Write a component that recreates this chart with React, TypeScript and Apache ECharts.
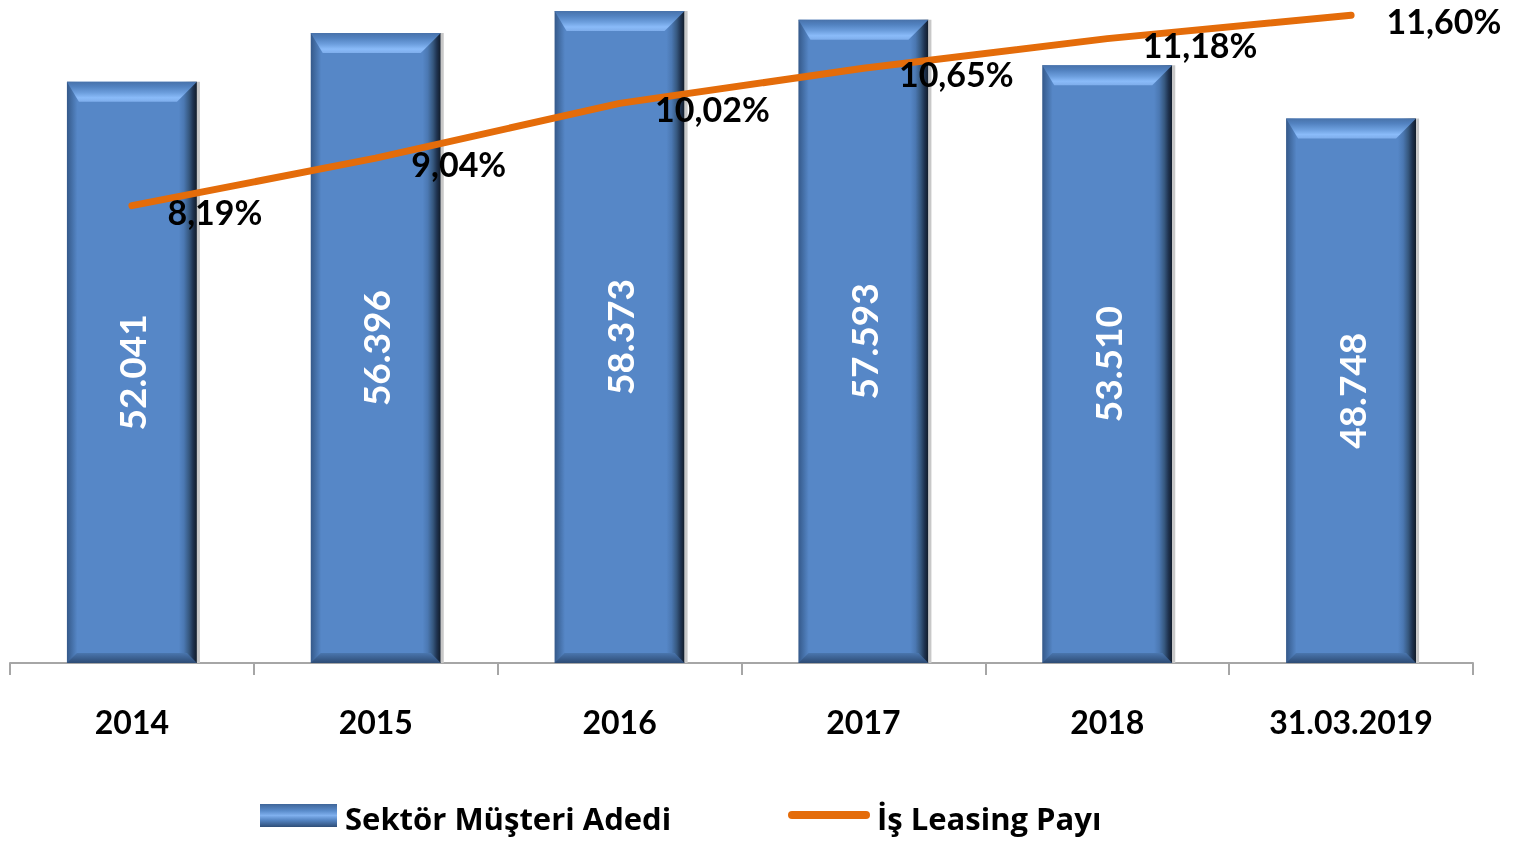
import React, { useEffect, useRef } from "react";
import * as echarts from "echarts";

const categories = ["2014", "2015", "2016", "2017", "2018", "31.03.2019"];
const customerCounts = [52041, 56396, 58373, 57593, 53510, 48748];
const leasingShare = [8.19, 9.04, 10.02, 10.65, 11.18, 11.6];
const barName = "Sektör Müşteri Adedi";
const lineName = "İş Leasing Payı";

const FONT = "Lato, 'Open Sans', 'DejaVu Sans', sans-serif";
const LEGEND_FONT = "'Open Sans', Lato, 'DejaVu Sans', sans-serif";

const fmtThousands = (v: number) =>
  String(v).replace(/\B(?=(\d{3})+(?!\d))/g, ".");
const fmtPct = (v: number) => v.toFixed(2).replace(".", ",") + "%";

export default function App() {
  const ref = useRef<HTMLDivElement>(null);

  useEffect(() => {
    if (!ref.current) return;
    const chart = echarts.init(ref.current, null, { renderer: "svg" });
    const G = echarts.graphic;
    const BAR_W = 130;

    const sideGradient = new G.LinearGradient(0, 0, 1, 0, [
      { offset: 0, color: "#35598A" },
      { offset: 0.04, color: "#4570A8" },
      { offset: 0.08, color: "#5687C7" },
      { offset: 0.86, color: "#5687C7" },
      { offset: 0.9, color: "#4B78B2" },
      { offset: 0.94, color: "#36587F" },
      { offset: 0.97, color: "#1F3350" },
      { offset: 1, color: "#111B28" },
    ]);

    chart.setOption({
      animation: false,
      grid: { left: 10, right: 52, top: 4, bottom: 180, containLabel: false },
      xAxis: {
        type: "category",
        data: categories,
        axisLine: { lineStyle: { color: "#A6A6A6", width: 2 } },
        axisTick: { show: true, length: 12, lineStyle: { color: "#A6A6A6", width: 2 } },
        axisLabel: {
          margin: 42,
          color: "#000",
          fontFamily: FONT,
          fontWeight: "bold",
          fontSize: 32,
        },
      },
      yAxis: [
        { type: "value", min: 0, max: 59000, show: false, splitLine: { show: false } },
        { type: "value", min: 0, max: 11.8, show: false, splitLine: { show: false } },
      ],
      series: [
        {
          name: barName,
          type: "bar",
          data: customerCounts,
          barWidth: BAR_W,
          itemStyle: { color: sideGradient },
          label: {
            show: true,
            position: "inside",
            rotate: 90,
            color: "#fff",
            fontFamily: FONT,
            fontWeight: "bold",
            fontSize: 37,
            formatter: (p: any) => fmtThousands(p.value),
          },
          z: 2,
        },
        {
          name: "bevel",
          type: "custom",
          silent: true,
          z: 3,
          data: customerCounts.map((v, i) => [i, v]),
          renderItem: (params: any, api: any) => {
            const i = api.value(0);
            const v = api.value(1);
            const top = api.coord([i, v]);
            const bot = api.coord([i, 0]);
            const x0 = top[0] - BAR_W / 2;
            const x1 = top[0] + BAR_W / 2;
            const yt = top[1];
            const yb = bot[1];
            const b = 20;
            const bb = 10;
            return {
              type: "group",
              children: [
                {
                  type: "polygon",
                  shape: { points: [[x0, yt], [x1, yt], [x1 - b, yt + b], [x0 + b * 0.6, yt + b]] },
                  style: {
                    fill: new G.LinearGradient(0, 0, 0, 1, [
                      { offset: 0, color: "#4872AA" },
                      { offset: 0.25, color: "#5282C0" },
                      { offset: 0.55, color: "#6C9EDD" },
                      { offset: 0.8, color: "#8ABBF9" },
                      { offset: 1, color: "#7EADEB" },
                    ]),
                  },
                },
                {
                  type: "polygon",
                  shape: { points: [[x0, yb], [x1, yb], [x1 - bb, yb - bb], [x0 + bb, yb - bb]] },
                  style: {
                    fill: new G.LinearGradient(0, 0, 0, 1, [
                      { offset: 0, color: "#4A76AE" },
                      { offset: 1, color: "#2D4B74" },
                    ]),
                  },
                },
                {
                  type: "rect",
                  shape: { x: x1, y: yt, width: 3, height: yb - yt },
                  style: { fill: "#C8C8C8" },
                },
              ],
            };
          },
        },
        {
          name: lineName,
          type: "line",
          yAxisIndex: 1,
          data: leasingShare,
          symbol: "circle",
          symbolSize: 1,
          showSymbol: true,
          z: 5,
          lineStyle: { color: "#E46C0A", width: 7, cap: "round" },
          itemStyle: { color: "#E46C0A" },
          label: {
            show: true,
            position: [36, 6],
            align: "left",
            verticalAlign: "middle",
            color: "#000",
            fontFamily: FONT,
            fontWeight: "bold",
            fontSize: 34,
            formatter: (p: any) => fmtPct(p.value),
          },
          labelLayout: { hideOverlap: false },
        },
      ],
      graphic: [
        {
          type: "rect",
          shape: { x: 260, y: 804, width: 77, height: 23 },
          style: {
            fill: new G.LinearGradient(0, 0, 0, 1, [
              { offset: 0, color: "#3F6699" },
              { offset: 0.3, color: "#5A8CCB" },
              { offset: 0.5, color: "#80B0EE" },
              { offset: 0.7, color: "#5585C3" },
              { offset: 1, color: "#2F4E78" },
            ]),
          },
        },
        {
          type: "text",
          x: 345,
          y: 818,
          style: {
            text: barName,
            fill: "#000",
            font: `bold 31px ${LEGEND_FONT}`,
            textVerticalAlign: "middle",
          },
        },
        {
          type: "line",
          shape: { x1: 792, y1: 815, x2: 866, y2: 815 },
          style: { stroke: "#E46C0A", lineWidth: 8, lineCap: "round" },
        },
        {
          type: "text",
          x: 877,
          y: 818,
          style: {
            text: lineName,
            fill: "#000",
            font: `bold 31px ${LEGEND_FONT}`,
            textVerticalAlign: "middle",
          },
        },
      ],
    });

    return () => chart.dispose();
  }, []);

  return (
    <div
      ref={ref}
      style={{ position: "fixed", left: 0, top: 0, width: 1525, height: 843 }}
    />
  );
}
